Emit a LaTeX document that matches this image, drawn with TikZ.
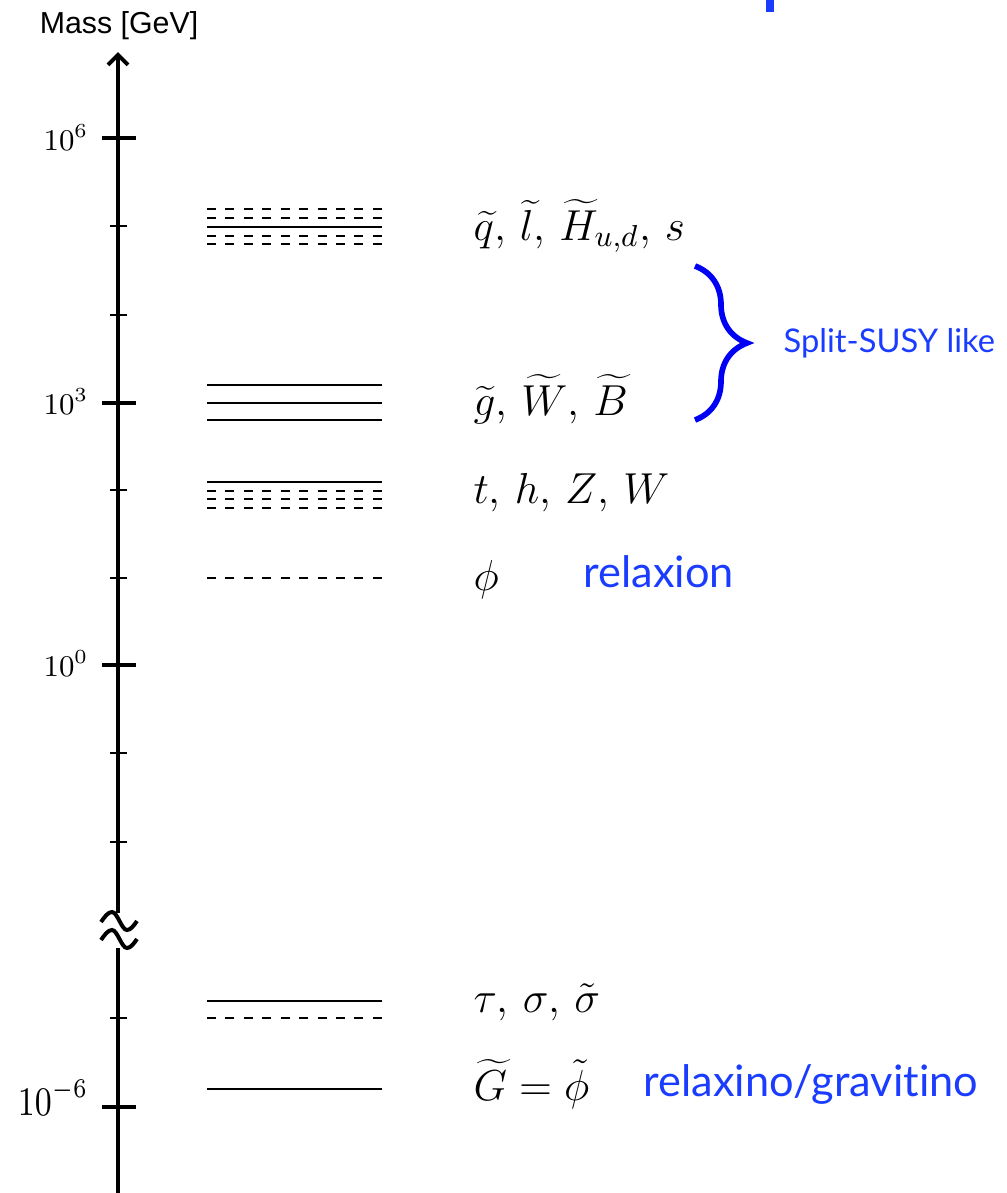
\documentclass[tikz,border=0pt]{standalone}
\usepackage{fix-cm}
\usepackage{fontspec}
\usepackage{xcolor}
\usepackage{tikz}
\usetikzlibrary{positioning, arrows.meta, calc, decorations.pathreplacing}
\newfontfamily\gillfont[Ligatures=NoCommon]{Lato}
\newfontfamily\helvfont{Liberation Sans}
\definecolor{relaxblue}{HTML}{1A3CFF}
\definecolor{braceblue}{HTML}{0000F5}
\tikzset{
  axisline/.style={line width=1.2pt},
  level/.style={line width=0.7pt},
  dashlevel/.style={line width=0.7pt, dash pattern=on 2.7pt off 2.83pt},
  spec/.style={anchor=base west, inner sep=0pt, font=\fontsize{13}{15}\selectfont},
  bluetext/.style={anchor=base west, inner sep=0pt, text=relaxblue, font=\gillfont\fontsize{13}{15}\selectfont},
  ticklabel/.style={anchor=base east, inner sep=0pt, font=\fontsize{9}{11}\selectfont},
}

\begin{document}
\begin{tikzpicture}[x=0.3pt, y=-0.3pt]
    \useasboundingbox (0,0) rectangle (1007,1193);
    \fill[relaxblue] (766,0) rectangle (774,12);

    % mass axis
    \node[anchor=base, inner sep=0pt, font=\helvfont\fontsize{9.1}{11}\selectfont] (masslbl) at (119,33) {Mass [GeV]};
    \coordinate (axisbot) at (118,1193);
    \coordinate (breaklo) at (118,948);
    \coordinate (breakhi) at (118,913);
    \coordinate (axistop) at (118,52);
    \draw[axisline] (axisbot) -- (breaklo);
    \draw[axisline, -{Straight Barb[length=3pt, width=6pt]}] (breakhi) -- (axistop);
    \foreach \d in {0,18}
      \draw[axisline] (101,922+\d) sin (112,912+\d) cos (119.5,921+\d) sin (127,930+\d) cos (137,921+\d);
    \foreach \y in {138,403,665,1107}
      \draw[axisline] (102,\y) -- (136,\y);
    \foreach \y in {226,315,490,578,753,842,1018}
      \draw[level] (110,\y) -- (127,\y);
    \node[ticklabel] (tsix) at (89,150) {$10^{6}$};
    \node[ticklabel] (tthree) at (89,414) {$10^{3}$};
    \node[ticklabel] (tzero) at (89,676) {$10^{0}$};
    \node[ticklabel] (tmsix) at (89,1115) {\scalebox{1.1}[1.35]{$10^{-6}$}};

    % spectrum
    \foreach \y in {227,385,403,420,482,1001,1089}
      \draw[level] (207,\y) -- (382,\y);
    \foreach \y in {209,218,236,244,491,499,508,578,1018}
      \draw[dashlevel] (207,\y) -- (382,\y);

    \node[spec] (sfermions) at (473,240) {$\widetilde{q}$, $\widetilde{l}$, $\widetilde{H}_{u,d}$, $s$};
    \node[spec] (gauginos) at (473,415) {$\widetilde{g}$, $\widetilde{W}$, $\widetilde{B}$};
    \node[spec] (smheavy) at (473,503) {$t$, $h$, $Z$, $W$};
    \node[spec] (relaxon) at (473,590) {$\phi$};
    \node[spec] (lightst) at (473,1012) {$\tau$, $\sigma$, $\tilde\sigma$};
    \node[spec] (lsp) at (473,1100) {$\widetilde{G}=\tilde\phi$};

    \node[bluetext] (relaxionlbl) at (583,587) {relaxion};
    \node[bluetext] (gravlbl) at (643,1096) {relaxino/gravitino};
    \draw[braceblue, line width=1.7pt, decorate, decoration={brace, amplitude=15.6pt}] (695,266) -- (695,420);
    \node[bluetext, font=\gillfont\fontsize{9.8}{12}\selectfont] (splitlbl) at (783,352) {Split-SUSY like};
  \end{tikzpicture}
\end{document}
